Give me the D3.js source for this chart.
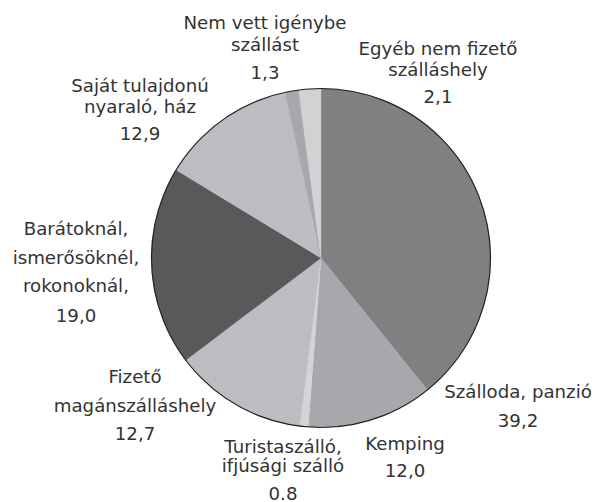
<!DOCTYPE html>
<html>
<head>
<meta charset="utf-8">
<script src="https://cdn.jsdelivr.net/npm/d3@7"></script>
<style>
  html, body { margin: 0; padding: 0; background: #fff; }
  svg text { font-family: "DejaVu Sans", sans-serif; font-size: 18.2px; fill: #333; }
</style>
</head>
<body>
<div id="chart"></div>
<script>
const categories = [
  "Szálloda, panzió",
  "Kemping",
  "Turistaszálló, ifjúsági szálló",
  "Fizető magánszálláshely",
  "Barátoknál, ismerősöknél, rokonoknál",
  "Saját tulajdonú nyaraló, ház",
  "Nem vett igénybe szállást",
  "Egyéb nem fizető szálláshely"
];
const values = [39.2, 12.0, 0.8, 12.7, 19.0, 12.9, 1.3, 2.1];
const valueLabels = ["39,2", "12,0", "0.8", "12,7", "19,0", "12,9", "1,3", "2,1"];
const labelLines = [
  ["Szálloda, panzió"],
  ["Kemping"],
  ["Turistaszálló,", "ifjúsági szálló"],
  ["Fizető", "magánszálláshely"],
  ["Barátoknál,", "ismerősöknél,", "rokonoknál,"],
  ["Saját tulajdonú", "nyaraló, ház"],
  ["Nem vett igénybe", "szállást"],
  ["Egyéb nem fizető", "szálláshely"]
];

const colors = ["#808083", "#a7a8ab", "#d3d4d6", "#bcbdc0", "#58595b", "#bcbdc0", "#a7a8ab", "#d1d2d4"];

// label layout: center x, first baseline, line gap, gap before value
const labelLayout = [
  { x: 518, y: 398, gap: 22, vgap: 29 },
  { x: 405, y: 450, gap: 22, vgap: 27 },
  { x: 283, y: 453, gap: 19, vgap: 28 },
  { x: 135, y: 383, gap: 29, vgap: 28 },
  { x: 76, y: 235, gap: 28.5, vgap: 30 },
  { x: 140, y: 92, gap: 21, vgap: 27 },
  { x: 265, y: 29, gap: 22, vgap: 28 },
  { x: 438, y: 55, gap: 21, vgap: 27 }
];

const W = 595, H = 502;
const cx = 321, cy = 258, r = 169.5;

const svg = d3.select("#chart").append("svg")
  .attr("width", W)
  .attr("height", H);

const pie = d3.pie().sort(null).value(d => d);
const arc = d3.arc().innerRadius(0).outerRadius(r);

const g = svg.append("g").attr("transform", `translate(${cx},${cy})`);

g.selectAll("path.slice")
  .data(pie(values))
  .join("path")
  .attr("class", "slice")
  .attr("d", arc)
  .attr("fill", (d, i) => colors[i])
  .attr("stroke", (d, i) => colors[i])
  .attr("stroke-width", 0.3);

g.append("circle")
  .attr("r", r)
  .attr("fill", "none")
  .attr("stroke", "#231f20")
  .attr("stroke-width", 1.2);

const labels = svg.selectAll("text.label")
  .data(categories)
  .join("text")
  .attr("class", "label")
  .attr("text-anchor", "middle");

labels.each(function (d, i) {
  const t = d3.select(this);
  const L = labelLayout[i];
  const lines = labelLines[i];
  lines.forEach((ln, j) => {
    t.append("tspan").attr("x", L.x).attr("y", L.y + j * L.gap).text(ln);
  });
  t.append("tspan")
    .attr("x", L.x)
    .attr("y", L.y + (lines.length - 1) * L.gap + L.vgap)
    .text(valueLabels[i]);
});
</script>
</body>
</html>
